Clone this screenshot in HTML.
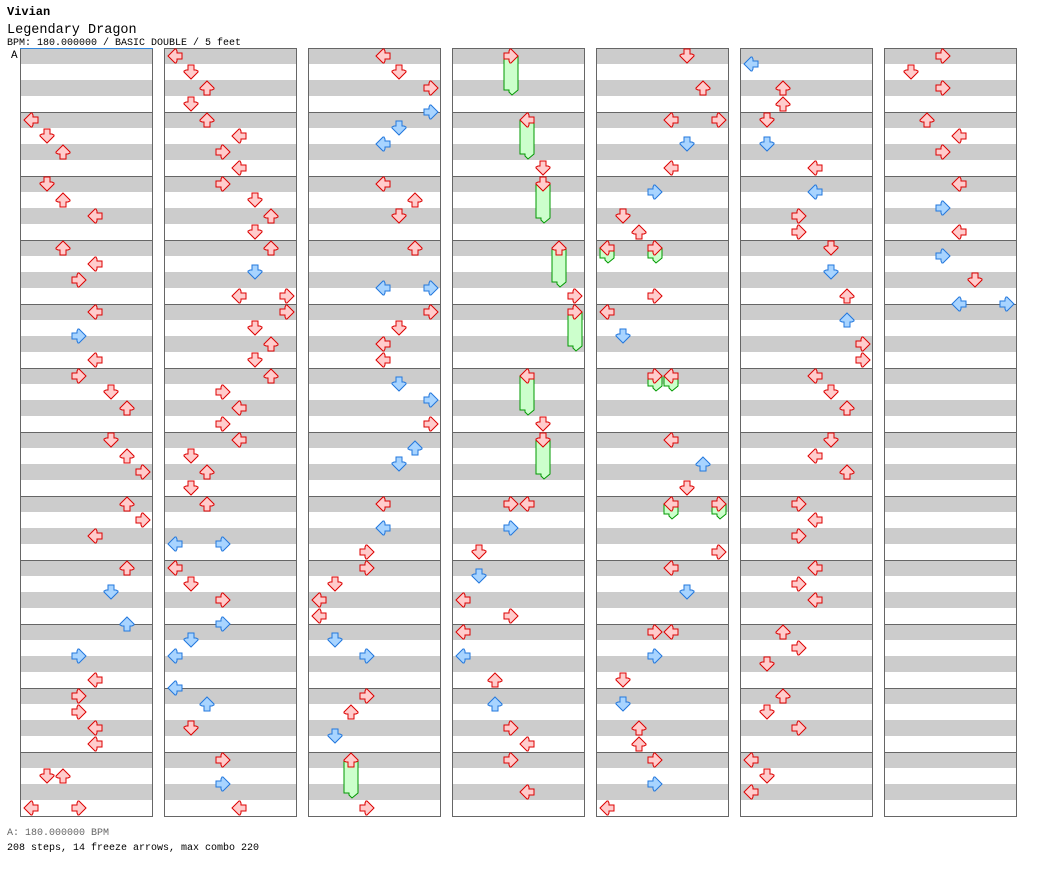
<!DOCTYPE html>
<html><head><meta charset="utf-8"><style>
body{margin:0;background:#fff;width:1040px;height:876px;overflow:hidden;font-family:"Liberation Mono","DejaVu Sans Mono",monospace}
svg{position:absolute;left:0;top:0}
</style></head><body>
<svg id="s" width="1040" height="876" xmlns="http://www.w3.org/2000/svg">
<text x="7" y="15" font-family="Liberation Mono, monospace" font-size="12" font-weight="bold">Vivian</text>
<text x="7" y="33" font-family="Liberation Mono, monospace" font-size="13.5">Legendary Dragon</text>
<text x="7" y="45" font-family="Liberation Mono, monospace" font-size="10">BPM: 180.000000 / BASIC DOUBLE / 5 feet</text>
<text x="11" y="58" font-family="Liberation Mono, monospace" font-size="11">A</text>
<text x="7" y="835" font-family="Liberation Mono, monospace" font-size="10" fill="#666">A: 180.000000 BPM</text>
<text x="7" y="850" font-family="Liberation Mono, monospace" font-size="10">208 steps, 14 freeze arrows, max combo 220</text>
<g id="g"></g>
</svg>
<script>
var g=document.getElementById('g'),h='';
var X=[20,164,308,452,596,740,884];
for(var c=0;c<7;c++){var x=X[c];
 for(var k=0;k<48;k++){ if(k%2==0) h+='<rect x="'+x+'" y="'+(48+k*16)+'" width="132" height="16" fill="#ccc"/>';}
 for(var m=1;m<12;m++) h+='<line x1="'+x+'" x2="'+(x+132)+'" y1="'+(48.5+m*64)+'" y2="'+(48.5+m*64)+'" stroke="#666"/>';
 h+='<rect x="'+(x+0.5)+'" y="48.5" width="132" height="768" fill="none" stroke="#666"/>';
}
h+='<line x1="20" x2="153" y1="48.5" y2="48.5" stroke="#3388dd"/>';
var D=[
[0,120,0],[0,136,1],[0,152,2],[0,184,1],[0,200,2],[0,216,4],[0,248,2],[0,264,4],[0,280,3],[0,312,4],[0,336,3,'b'],[0,360,4],[0,376,3],[0,392,5],[0,408,6],[0,440,5],[0,456,6],[0,472,7],[0,504,6],[0,520,7],[0,536,4],[0,568,6],[0,592,5,'b'],[0,624,6,'b'],[0,656,3,'b'],[0,680,4],[0,696,3],[0,712,3],[0,728,4],[0,744,4],[0,776,1],[0,776,2],[0,808,0],[0,808,3],
[1,56,0],[1,72,1],[1,88,2],[1,104,1],[1,120,2],[1,136,4],[1,152,3],[1,168,4],[1,184,3],[1,200,5],[1,216,6],[1,232,5],[1,248,6],[1,272,5,'b'],[1,296,4],[1,296,7],[1,312,7],[1,328,5],[1,344,6],[1,360,5],[1,376,6],[1,392,3],[1,408,4],[1,424,3],[1,440,4],[1,456,1],[1,472,2],[1,488,1],[1,504,2],[1,544,0,'b'],[1,544,3,'b'],[1,568,0],[1,584,1],[1,600,3],[1,624,3,'b'],[1,640,1,'b'],[1,656,0,'b'],[1,688,0,'b'],[1,704,2,'b'],[1,728,1],[1,760,3],[1,784,3,'b'],[1,808,4],
[2,56,4],[2,72,5],[2,88,7],[2,112,7,'b'],[2,128,5,'b'],[2,144,4,'b'],[2,184,4],[2,200,6],[2,216,5],[2,248,6],[2,288,4,'b'],[2,288,7,'b'],[2,312,7],[2,328,5],[2,344,4],[2,360,4],[2,384,5,'b'],[2,400,7,'b'],[2,424,7],[2,448,6,'b'],[2,464,5,'b'],[2,504,4],[2,528,4,'b'],[2,552,3],[2,568,3],[2,584,1],[2,600,0],[2,616,0],[2,640,1,'b'],[2,656,3,'b'],[2,696,3],[2,712,2],[2,736,1,'b'],[2,760,2,'r',798],[2,808,3],
[3,56,3,'r',95],[3,120,4,'r',159],[3,168,5],[3,184,5,'r',223],[3,248,6,'r',287],[3,296,7],[3,312,7,'r',351],[3,376,4,'r',415],[3,424,5],[3,440,5,'r',479],[3,504,3],[3,504,4],[3,528,3,'b'],[3,552,1],[3,576,1,'b'],[3,600,0],[3,616,3],[3,632,0],[3,656,0,'b'],[3,680,2],[3,704,2,'b'],[3,728,3],[3,744,4],[3,760,3],[3,792,4],
[4,56,5],[4,88,6],[4,120,4],[4,120,7],[4,144,5,'b'],[4,168,4],[4,192,3,'b'],[4,216,1],[4,232,2],[4,248,0,'r',263],[4,248,3,'r',263],[4,296,3],[4,312,0],[4,336,1,'b'],[4,376,3,'r',391],[4,376,4,'r',391],[4,440,4],[4,464,6,'b'],[4,488,5],[4,504,4,'r',519],[4,504,7,'r',519],[4,552,7],[4,568,4],[4,592,5,'b'],[4,632,3],[4,632,4],[4,656,3,'b'],[4,680,1],[4,704,1,'b'],[4,728,2],[4,744,2],[4,760,3],[4,784,3,'b'],[4,808,0],
[5,64,0,'b'],[5,88,2],[5,104,2],[5,120,1],[5,144,1,'b'],[5,168,4],[5,192,4,'b'],[5,216,3],[5,232,3],[5,248,5],[5,272,5,'b'],[5,296,6],[5,320,6,'b'],[5,344,7],[5,360,7],[5,376,4],[5,392,5],[5,408,6],[5,440,5],[5,456,4],[5,472,6],[5,504,3],[5,520,4],[5,536,3],[5,568,4],[5,584,3],[5,600,4],[5,632,2],[5,648,3],[5,664,1],[5,696,2],[5,712,1],[5,728,3],[5,760,0],[5,776,1],[5,792,0],
[6,56,3],[6,72,1],[6,88,3],[6,120,2],[6,136,4],[6,152,3],[6,184,4],[6,208,3,'b'],[6,232,4],[6,256,3,'b'],[6,280,5],[6,304,4,'b'],[6,304,7,'b']
];
var shape='8,1 15,8 15,9 13,10 11,10 11,15 5,15 5,10 3,10 1,9 1,8';
var rot=[-90,180,0,90];
var fr='',ar='';
D.forEach(function(d){
 var cx=X[d[0]]+11+16*d[2], cy=d[1], col=d[3]||'r';
 if(d[4]){var e=d[4];
  fr+='<polygon points="'+(cx-7)+','+cy+' '+(cx+7)+','+cy+' '+(cx+7)+','+(e-5)+' '+(cx+1)+','+e+' '+(cx-2)+','+(e-3)+' '+(cx-2)+','+(e-5)+' '+(cx-7)+','+(e-5)+'" fill="#ccffcc" stroke="#009900"/>';}
 var f=col=='b'?'#a8d4ff':'#ffcccc', s=col=='b'?'#2277dd':'#dd0000';
 ar+='<polygon transform="translate('+(cx-8)+','+(cy-8)+') rotate('+rot[d[2]%4]+' 8 8)" points="'+shape+'" fill="'+f+'" stroke="'+s+'" stroke-width="1"/>';
});
g.innerHTML=h+fr+ar;
</script>
</body></html>
